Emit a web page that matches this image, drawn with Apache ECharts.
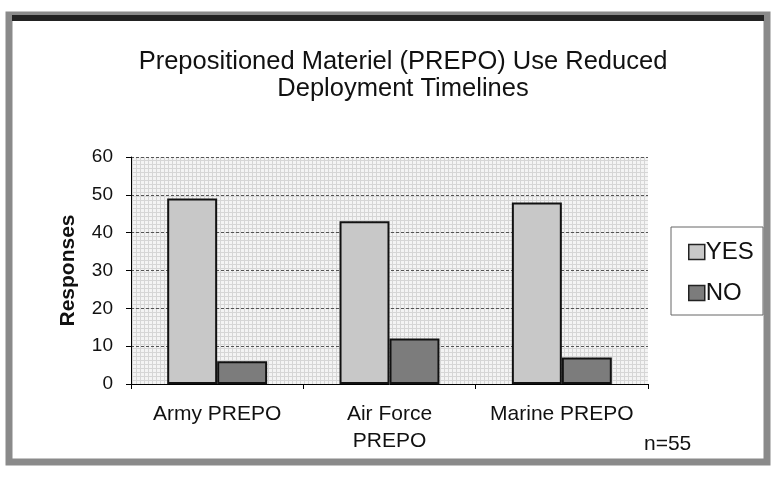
<!DOCTYPE html>
<html>
<head>
<meta charset="utf-8">
<script src="https://cdn.jsdelivr.net/npm/echarts@6/dist/echarts.min.js"></script>
<style>
  html, body { margin: 0; padding: 0; background: #fff; }
  #main { width: 777px; height: 490px; }
</style>
</head>
<body>
<div id="main"></div>
<script>
// 数据
var categories = ["Army PREPO", "Air Force\nPREPO", "Marine PREPO"];
var yesValues = [49, 43, 48];
var noValues = [6, 12, 7];
var seriesNames = ["YES", "NO"];

var myChart = echarts.init(document.getElementById("main"));
var font = "Liberation Sans, Arial, sans-serif";

// 绘图区的细网格底纹
var bg = document.createElement("canvas");
bg.width = 4;
bg.height = 4;
var ctx = bg.getContext("2d");
ctx.fillStyle = "#f4f4f4";
ctx.fillRect(0, 0, 4, 4);
ctx.fillStyle = "#d6d6d6";
ctx.fillRect(0, 0, 4, 1);
ctx.fillRect(0, 0, 1, 4);

var option = {
  backgroundColor: "#ffffff",
  animation: false,
  graphic: [
    // 外框
    { type: "rect", shape: { x: 9, y: 15, width: 758, height: 447 },
      style: { fill: "none", stroke: "#8a8a8a", lineWidth: 7 }, z: 0 },
    { type: "rect", shape: { x: 12, y: 15, width: 752, height: 6 },
      style: { fill: "#222" }, z: 1 },
    // 图例框
    { type: "rect", shape: { x: 671, y: 227, width: 92, height: 88 },
      style: { fill: "#fff", stroke: "#666", lineWidth: 1 }, z: 1 },
    { type: "text", left: 644, top: 434,
      style: { text: "n=55", font: "21px " + font, fill: "#111" } }
  ],
  title: {
    text: "Prepositioned Materiel (PREPO) Use Reduced\nDeployment Timelines",
    left: 398,
    textAlign: "center",
    top: 43,
    textStyle: { fontFamily: font, fontSize: 25.5, fontWeight: "normal", color: "#111", lineHeight: 27 }
  },
  legend: {
    orient: "vertical",
    left: 683,
    top: 235,
    itemWidth: 16,
    itemHeight: 15,
    itemGap: 17,
    itemStyle: { borderColor: "#222", borderWidth: 1.5 },
    icon: "rect",
    data: seriesNames,
    textStyle: { fontFamily: font, fontSize: 24, color: "#111", padding: [0, 0, 0, -4] }
  },
  grid: {
    left: 131, right: 129, top: 157, bottom: 106,
    show: true, backgroundColor: { image: bg, repeat: "repeat" }, borderWidth: 0
  },
  xAxis: {
    type: "category",
    data: categories,
    axisLine: { lineStyle: { color: "#000", width: 1 } },
    axisTick: { show: true, length: 5, lineStyle: { color: "#000" } },
    axisLabel: { interval: 0, fontFamily: font, fontSize: 21, color: "#111", margin: 17, lineHeight: 27 }
  },
  yAxis: {
    type: "value",
    min: 0, max: 60, interval: 10,
    name: "Responses",
    nameLocation: "middle",
    nameGap: 52,
    nameTextStyle: { fontFamily: font, fontSize: 21, fontWeight: "bold", color: "#111" },
    axisLine: { show: true, lineStyle: { color: "#000" } },
    axisTick: { show: true, length: 5, lineStyle: { color: "#000" } },
    axisLabel: { fontFamily: font, fontSize: 19, color: "#111", margin: 18 },
    splitLine: { lineStyle: { color: "#555", type: [3, 2], width: 1 } }
  },
  series: [
    {
      name: seriesNames[0], type: "bar", data: yesValues,
      barCategoryGap: "42%", barGap: "0%",
      itemStyle: { color: "#c8c8c8", borderColor: "#111", borderWidth: 2 }
    },
    {
      name: seriesNames[1], type: "bar", data: noValues,
      itemStyle: { color: "#7c7c7c", borderColor: "#111", borderWidth: 2 }
    }
  ]
};
myChart.setOption(option);

window.onresize = function () {
  myChart.resize();
};
</script>
</body>
</html>
